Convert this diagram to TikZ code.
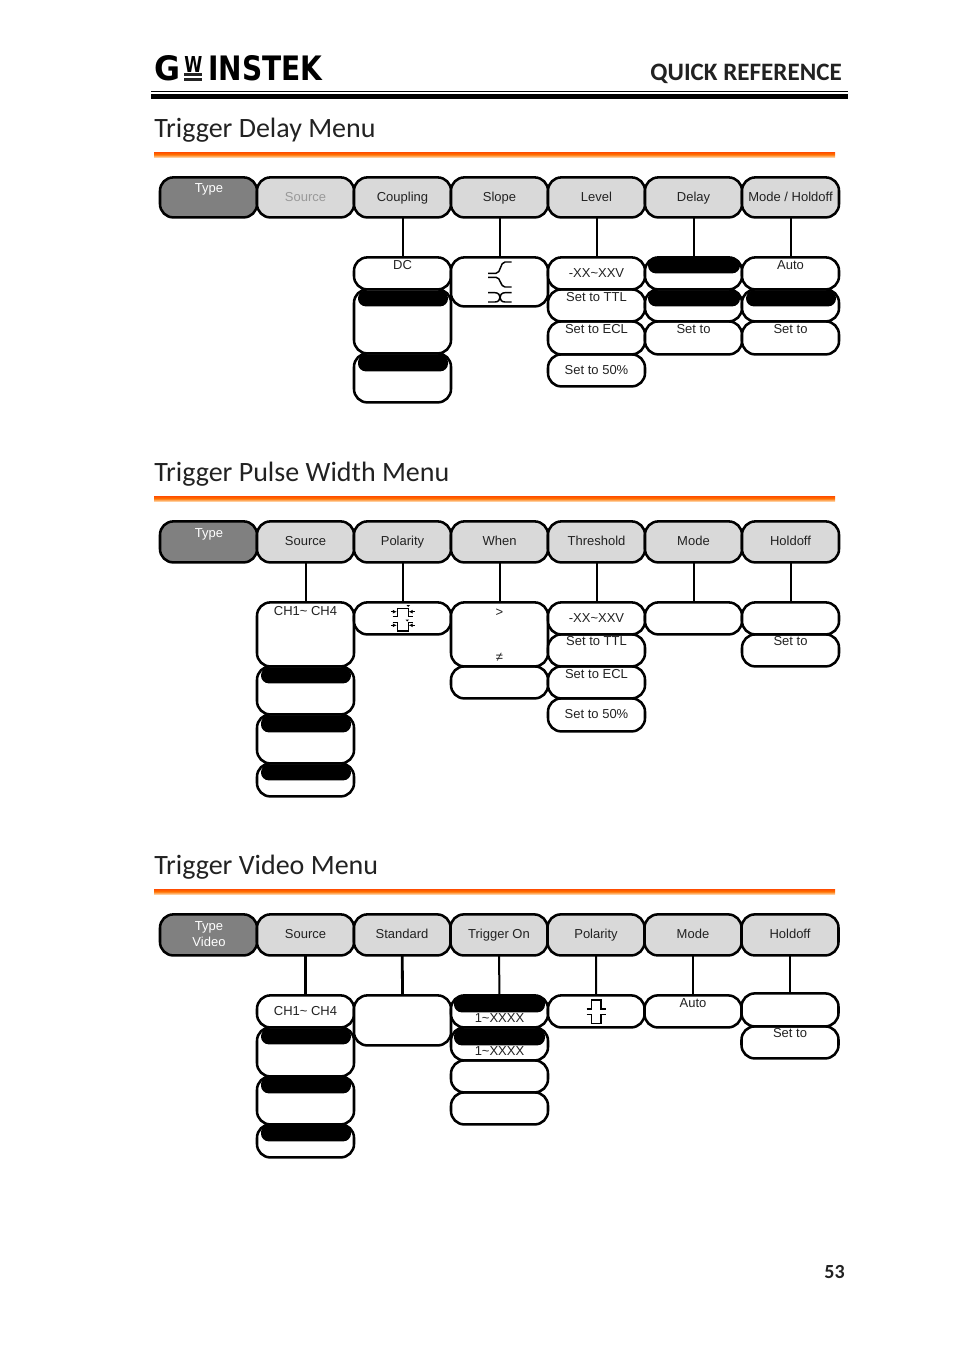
\documentclass[tikz,border=0pt]{standalone}
\usetikzlibrary{arrows.meta}
\usepackage{fontspec}
\setmainfont{Liberation Sans}
\newfontfamily\headf{Carlito}
\newfontfamily\logof{DejaVu Sans}
\definecolor{hdr}{HTML}{D9D9D9}
\definecolor{typ}{HTML}{808080}
\definecolor{ink}{HTML}{222222}
\tikzset{
  boxbase/.style={draw=black,line width=1.9pt,rounded corners=10pt,inner sep=0pt,outer sep=0pt},
  subbox/.style={boxbase,fill=white},
  hdrbox/.style={boxbase,fill=hdr},
  typebox/.style={boxbase,fill=typ},
  bar/.style={fill=black,rounded corners=5.9pt,inner sep=0pt,outer sep=0pt},
  lab/.style={font=\fontsize{9.75}{11}\selectfont,text=ink,inner sep=0pt,anchor=base},
  wlab/.style={lab,text=white},
  glab/.style={lab,text=black!40},
  conn/.style={line width=1.5pt,black},
  thickconn/.style={line width=2.1pt,black},
  icon/.style={line width=.85pt,black},
  ttl/.style={font=\fontsize{21}{24}\selectfont\headf,text=ink,inner sep=0pt,anchor=base west},
}
\newcommand{\bx}[6]{\node[#2,minimum width={(#5-#3)*0.75pt},minimum height={(#6-#4)*0.75pt}] (#1) at ({(#3+#5)/2},{(#4+#6)/2+0.4}) {};}
\newcommand{\tx}[5][lab]{\node[#1] (#2) at (#3,{#4+4.8}) {#5};}
\newcommand{\rulebar}[1]{\fill[top color=orange!60!red,bottom color=orange!40!white,middle color=orange!90!red] (154,#1) rectangle (835,#1+5);}
% x, base y, pulse width, pulse height (negative height: downward pulse)
\newcommand{\pulse}[4]{\draw[icon] (#1,#2) -- ++(5,0) -- ++(0,-#4) -- ++(#3,0) -- ++(0,#4) -- ++(5,0);}
\begin{document}
\begin{tikzpicture}[x=0.75pt,y=-0.75pt]
\useasboundingbox (0,0) rectangle (954,1349);
% page head
\node[inner sep=0pt,anchor=south west] (logoG) at (154,81) {\resizebox{19.5pt}{18.75pt}{\logof\bfseries G}};
\node[inner sep=0pt,anchor=north west] (logoW) at (184,56) {\resizebox{13.5pt}{12pt}{\logof\bfseries W}};
\fill[ink] (184,73) rectangle (202,76);
\fill[ink] (184,77.5) rectangle (202,81);
\node[inner sep=0pt,anchor=south west] (logoI) at (208,81) {\resizebox{85.5pt}{18.75pt}{\logof\bfseries INSTEK}};
\node[inner sep=0pt,anchor=base east,font=\fontsize{18.8}{20}\selectfont\headf\bfseries,text=ink] (qr) at (842,80) {QUICK REFERENCE};
\fill[black] (151,90.5) rectangle (848,91.5);
\fill[black] (151,94) rectangle (848,99);
\node[inner sep=0pt,anchor=base east,font=\fontsize{15}{17}\selectfont\headf\bfseries,text=ink] (pg) at (845,1278) {53};
% ===== section 1
\node[ttl] (t1) at (154,137) {Trigger Delay Menu};
\rulebar{152}
\bx{a1}{typebox}{160}{177}{257}{217}
\bx{a2}{hdrbox}{257}{177}{354}{217}
\bx{a3}{hdrbox}{354}{177}{451}{217}
\bx{a4}{hdrbox}{451}{177}{548}{217}
\bx{a5}{hdrbox}{548}{177}{645}{217}
\bx{a6}{hdrbox}{645}{177}{742}{217}
\bx{a7}{hdrbox}{742}{177}{839}{217}
\bx{a31}{subbox}{354}{257}{451}{289}
\bx{a33}{subbox}{354}{353}{451}{402}
\bx{a32}{subbox}{354}{289}{451}{353}
\bx{a41}{subbox}{451}{257}{548}{306}
\bx{a54}{subbox}{548}{354}{645}{386}
\bx{a53}{subbox}{548}{321}{645}{354}
\bx{a52}{subbox}{548}{289}{645}{321}
\bx{a51}{subbox}{548}{257}{645}{289}
\bx{a63}{subbox}{645}{321}{742}{354}
\bx{a62}{subbox}{645}{289}{742}{321}
\bx{a61}{subbox}{645}{257}{742}{289}
\bx{a73}{subbox}{742}{321}{839}{354}
\bx{a72}{subbox}{742}{289}{839}{321}
\bx{a71}{subbox}{742}{257}{839}{289}
\bx{ab1}{bar}{358}{290}{448}{306}
\bx{ab2}{bar}{358}{354}{448}{371}
\bx{ab3}{bar}{648}{257}{740}{273}
\bx{ab4}{bar}{648}{290}{740}{306}
\bx{ab5}{bar}{746}{290}{836}{306}
\foreach \h/\s in {a3/a31,a4/a41,a5/a51,a6/a61,a7/a71} \draw[conn] (\h.south) -- (\s.north);
\tx[wlab]{la1}{209}{188}{Type}
\tx[glab]{la2}{305.5}{197}{Source}
\tx{la3}{402.5}{197}{Coupling}
\tx{la4}{499.5}{197}{Slope}
\tx{la5}{596.5}{197}{Level}
\tx{la6}{693.5}{197}{Delay}
\tx{la7}{790.5}{197}{Mode / Holdoff}
\tx{la31}{402.5}{265}{DC}
\tx{la51}{596.5}{272.4}{-XX\char`\~XXV}
\tx{la52}{596.5}{297}{Set to TTL}
\tx{la53}{596.5}{329}{Set to ECL}
\tx{la54}{596.5}{370}{Set to 50\%}
\tx{la63}{693.5}{329}{Set to}
\tx{la71}{790.5}{265}{Auto}
\tx{la73}{790.5}{329}{Set to}
% slope icons
\draw[icon,line width=1.1pt] (511.5,262) -- (505,262) .. controls (500,262) and (501,273.3) .. (496,273.3) -- (488,273.3);
\draw[icon,line width=1.1pt] (488,277.3) -- (496,277.3) .. controls (501,277.3) and (500,287) .. (505,287) -- (511.5,287);
\draw[icon,line width=1.1pt] (488,292.7) -- (495,292.7) .. controls (501.7,292.7) and (501.7,302) .. (495,302) -- (488,302);
\draw[icon,line width=1.1pt] (511.5,292.7) -- (505,292.7) .. controls (498.3,292.7) and (498.3,302) .. (505,302) -- (511.5,302);
% ===== section 2
\node[ttl] (t2) at (154,481) {Trigger Pulse Width Menu};
\rulebar{496}
\bx{b1}{typebox}{160}{521}{257}{562}
\bx{b2}{hdrbox}{257}{521}{354}{562}
\bx{b3}{hdrbox}{354}{521}{451}{562}
\bx{b4}{hdrbox}{451}{521}{548}{562}
\bx{b5}{hdrbox}{548}{521}{645}{562}
\bx{b6}{hdrbox}{645}{521}{742}{562}
\bx{b7}{hdrbox}{742}{521}{839}{562}
\bx{b24}{subbox}{257}{763}{354}{796}
\bx{b23}{subbox}{257}{714}{354}{763}
\bx{b22}{subbox}{257}{666}{354}{714}
\bx{b21}{subbox}{257}{602}{354}{666}
\bx{b31}{subbox}{354}{602}{451}{634}
\bx{b42}{subbox}{451}{666}{548}{698}
\bx{b41}{subbox}{451}{602}{548}{666}
\bx{b54}{subbox}{548}{698}{645}{731}
\bx{b53}{subbox}{548}{666}{645}{698}
\bx{b52}{subbox}{548}{634}{645}{666}
\bx{b51}{subbox}{548}{602}{645}{634}
\bx{b61}{subbox}{645}{602}{742}{634}
\bx{b72}{subbox}{742}{634}{839}{666}
\bx{b71}{subbox}{742}{602}{839}{634}
\bx{bb1}{bar}{261}{667}{351}{683}
\bx{bb2}{bar}{261}{715}{351}{732}
\bx{bb3}{bar}{261}{764}{351}{780}
\foreach \h/\s in {b2/b21,b3/b31,b4/b41,b5/b51,b6/b61,b7/b71} \draw[conn] (\h.south) -- (\s.north);
\tx[wlab]{lb1}{209}{533}{Type}
\tx{lb2}{305.5}{541}{Source}
\tx{lb3}{402.5}{541}{Polarity}
\tx{lb4}{499.5}{541}{When}
\tx{lb5}{596.5}{541}{Threshold}
\tx{lb6}{693.5}{541}{Mode}
\tx{lb7}{790.5}{541}{Holdoff}
\tx{lb21}{305.5}{610.8}{CH1\char`\~{} CH4}
\tx{lb41}{499.5}{611.8}{>}
\tx{lb42}{499.5}{656.8}{≠}
\tx{lb51}{596.5}{617.4}{-XX\char`\~XXV}
\tx{lb52}{596.5}{641}{Set to TTL}
\tx{lb53}{596.5}{674}{Set to ECL}
\tx{lb54}{596.5}{714}{Set to 50\%}
\tx{lb72}{790.5}{641}{Set to}
% polarity icons (pulse width)
\pulse{392.7}{616.7}{10.6}{8.3}
\pulse{392.7}{622.7}{10.6}{-8.3}
\foreach \yy in {611.7,625.3} {
  \draw[line width=.6pt,-{Latex[length=3pt,width=3pt]}] (391,\yy) -- (396.8,\yy);
  \draw[line width=.6pt,-{Latex[length=3pt,width=3pt]}] (414.5,\yy) -- (408.7,\yy);
}
\fill[black] (406.5,605) -- (410,605) -- (408.2,607) -- cycle;
\fill[black] (405.5,619.5) -- (409,619.5) -- (407.2,621.5) -- cycle;
% ===== section 3
\node[ttl] (t3) at (154,874) {Trigger Video Menu};
\rulebar{889}
\bx{c1}{typebox}{160}{914}{257}{955}
\bx{c2}{hdrbox}{257}{914}{354}{955}
\bx{c3}{hdrbox}{354}{914}{450.5}{955}
\bx{c4}{hdrbox}{450.5}{914}{547.5}{955}
\bx{c5}{hdrbox}{547.5}{914}{644.5}{955}
\bx{c6}{hdrbox}{644.5}{914}{741.5}{955}
\bx{c7}{hdrbox}{741.5}{914}{838.5}{955}
\bx{c24}{subbox}{257}{1124}{354}{1157}
\bx{c23}{subbox}{257}{1076}{354}{1124}
\bx{c22}{subbox}{257}{1027}{354}{1076}
\bx{c21}{subbox}{257}{995}{354}{1027}
\bx{c31}{subbox}{354}{995}{451}{1045}
\bx{c44}{subbox}{451}{1092}{548}{1124}
\bx{c43}{subbox}{451}{1060}{548}{1092}
\bx{c42}{subbox}{451}{1027}{548}{1060}
\bx{c41}{subbox}{451}{995}{548}{1027}
\bx{c51}{subbox}{548}{995}{644.5}{1027}
\bx{c61}{subbox}{644.5}{995}{741.5}{1027}
\bx{c72}{subbox}{741.5}{1026}{838.5}{1058}
\bx{c71}{subbox}{741.5}{993}{838.5}{1026}
\bx{cb1}{bar}{261}{1028}{351}{1044}
\bx{cb2}{bar}{261}{1076}{351}{1093}
\bx{cb3}{bar}{261}{1124}{351}{1141}
\bx{cb4}{bar}{454}{995}{545}{1012}
\bx{cb5}{bar}{454}{1028}{545}{1045}
\foreach \h/\s in {c2/c21,c3/c31} \draw[thickconn] (\h.south) -- (\s.north);
\foreach \h/\s in {c4/c41,c5/c51,c6/c61,c7/c71} \draw[conn] (\h.south) -- (\s.north);
\tx[wlab]{lc1}{209}{926}{Type}
\tx[wlab]{lc1b}{209}{942}{Video}
\tx{lc2}{305.5}{934}{Source}
\tx{lc3}{402}{934}{Standard}
\tx{lc4}{499}{934}{Trigger On}
\tx{lc5}{596}{934}{Polarity}
\tx{lc6}{693}{934}{Mode}
\tx{lc7}{790}{934}{Holdoff}
\tx{lc21}{305.5}{1010.8}{CH1\char`\~{} CH4}
\tx{lc41}{499.5}{1017.8}{1\char`\~XXXX}
\tx{lc42}{499.5}{1050.8}{1\char`\~XXXX}
\tx{lc61}{693}{1003}{Auto}
\tx{lc72}{790}{1033}{Set to}
% polarity icons (video)
\pulse{586.7}{1009}{9.3}{9}
\pulse{586.7}{1014.5}{9.3}{-9}
\end{tikzpicture}
\end{document}
